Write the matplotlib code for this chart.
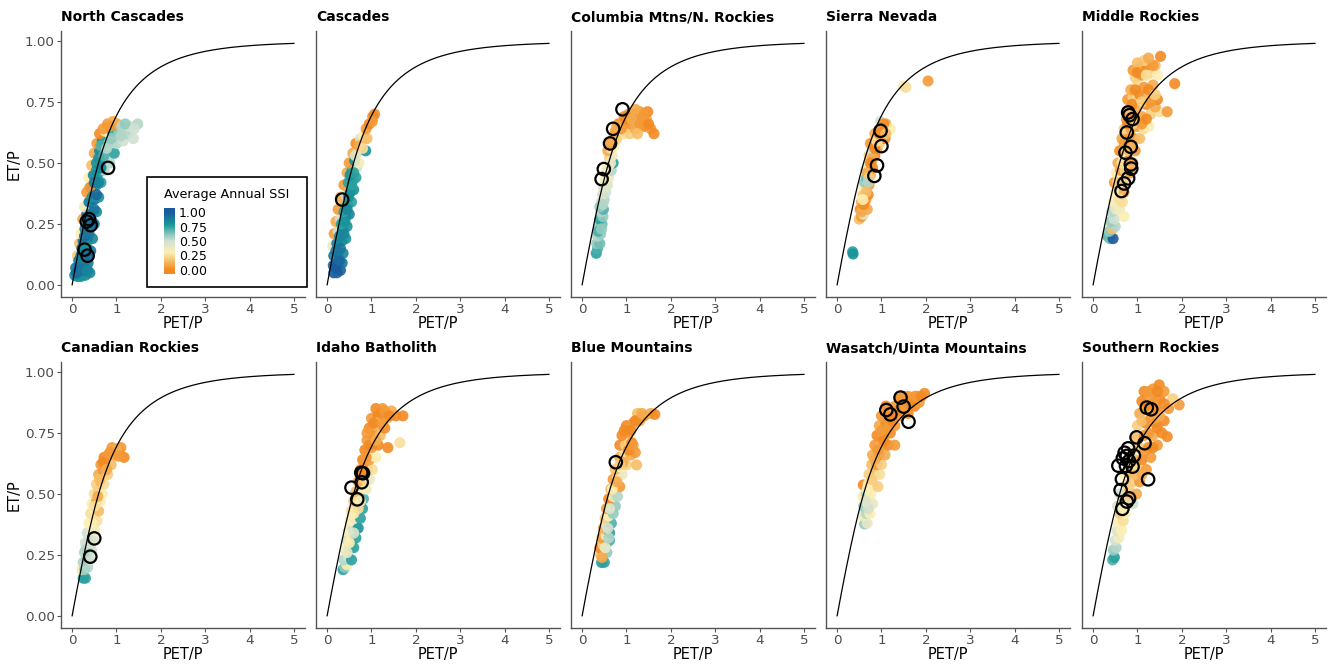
import numpy as np
import matplotlib
matplotlib.use("Agg")
import matplotlib.pyplot as plt
from matplotlib.colors import LinearSegmentedColormap, Normalize
from matplotlib.patches import Rectangle

plt.rcParams['font.family'] = ['DejaVu Sans']

# ---- data: (PET/P, ET/P, average annual SSI) per watershed, open circles per region ----
regions = ["North Cascades", "Cascades", "Columbia Mtns/N. Rockies", "Sierra Nevada", "Middle Rockies",
           "Canadian Rockies", "Idaho Batholith", "Blue Mountains", "Wasatch/Uinta Mountains", "Southern Rockies"]

nc_pts = [(0.06,0.04,0.85),(0.12,0.035,0.8),(0.2,0.035,0.8),(0.3,0.04,0.8),(0.4,0.05,0.85),
          (0.08,0.07,0.9),(0.16,0.08,0.95),(0.26,0.08,0.95),(0.36,0.09,0.9),
          (0.12,0.12,0.2),(0.2,0.12,0.95),(0.3,0.13,0.95),(0.42,0.14,0.9),
          (0.17,0.17,0.15),(0.25,0.18,0.95),(0.35,0.19,0.95),(0.46,0.19,0.85),
          (0.2,0.21,0.3),(0.29,0.23,0.9),(0.4,0.24,0.95),(0.5,0.25,0.9),
          (0.24,0.27,0.1),(0.33,0.29,0.95),(0.45,0.3,0.95),(0.55,0.3,0.85),
          (0.28,0.32,0.35),(0.38,0.34,0.9),(0.5,0.35,0.95),(0.6,0.36,0.8),
          (0.33,0.38,0.05),(0.43,0.4,0.9),(0.55,0.41,0.85),(0.65,0.42,0.75),
          (0.38,0.44,0.3),(0.48,0.45,0.85),(0.6,0.46,0.8),(0.72,0.47,0.55),
          (0.44,0.49,0.15),(0.55,0.5,0.8),(0.68,0.51,0.75),(0.85,0.5,0.55),
          (0.5,0.54,0.1),(0.62,0.55,0.85),(0.75,0.54,0.5),(0.95,0.54,0.75),
          (0.56,0.58,0.05),(0.68,0.59,0.8),(0.82,0.58,0.6),(1.0,0.58,0.55),(1.15,0.59,0.5),
          (0.62,0.62,0.0),(0.75,0.63,0.3),(0.9,0.63,0.75),(1.05,0.62,0.6),(1.25,0.62,0.55),(1.38,0.6,0.5),
          (0.8,0.66,0.05),(0.92,0.67,0.1),(1.02,0.66,0.1),(1.12,0.65,0.55),(1.3,0.65,0.5),(1.48,0.66,0.55),
          (0.4,0.4,0.05),
          (0.1,0.05,0.95),(0.25,0.06,0.9),(0.35,0.06,0.85),(0.15,0.1,0.9),(0.24,0.11,0.85),(0.38,0.12,0.95),
          (0.22,0.15,0.9),(0.32,0.16,0.8),(0.28,0.2,0.95),(0.38,0.21,0.9),(0.35,0.25,0.85),(0.45,0.26,0.95),
          (0.4,0.29,0.9),(0.5,0.31,0.9),(0.45,0.36,0.8),(0.55,0.37,0.95),(0.5,0.42,0.9),(0.6,0.42,0.85),
          (0.55,0.47,0.8),(0.65,0.48,0.85),(0.6,0.52,0.8),(0.72,0.53,0.7),(0.65,0.57,0.7),(0.78,0.56,0.55),
          (0.88,0.6,0.6),(1.1,0.61,0.55),(1.2,0.66,0.6),(1.4,0.64,0.5),(0.7,0.64,0.05),(0.85,0.65,0.05)]
nc_open = [(0.33,0.26),(0.38,0.27),(0.42,0.245),(0.28,0.145),(0.35,0.12),(0.81,0.48)]

ca_pts = [(0.15,0.05,1.0),(0.22,0.05,0.95),(0.3,0.06,1.0),(0.14,0.08,0.95),(0.24,0.09,1.0),(0.34,0.09,0.9),
          (0.15,0.12,0.9),(0.25,0.13,0.95),(0.36,0.13,0.85),(0.13,0.16,0.4),(0.22,0.17,0.9),(0.33,0.18,0.85),
          (0.42,0.19,0.8),(0.16,0.21,0.05),(0.25,0.22,0.5),(0.35,0.23,0.85),(0.45,0.24,0.8),
          (0.2,0.26,0.1),(0.3,0.27,0.5),(0.42,0.28,0.8),(0.5,0.29,0.85),
          (0.25,0.31,0.05),(0.35,0.32,0.1),(0.46,0.33,0.8),(0.55,0.34,0.75),
          (0.3,0.36,0.1),(0.42,0.37,0.5),(0.52,0.38,0.85),(0.6,0.39,0.8),
          (0.38,0.41,0.05),(0.48,0.42,0.75),(0.58,0.43,0.8),(0.65,0.44,0.75),
          (0.45,0.46,0.1),(0.56,0.47,0.75),(0.66,0.48,0.5),
          (0.5,0.5,0.05),(0.62,0.51,0.8),(0.72,0.5,0.35),
          (0.58,0.54,0.1),(0.7,0.55,0.2),(0.87,0.55,0.8),
          (0.65,0.58,0.0),(0.78,0.59,0.05),(0.75,0.6,0.45),
          (0.82,0.61,0.3),(0.9,0.6,0.15),(0.88,0.64,0.05),(0.95,0.66,0.0),(1.03,0.69,0.0),(1.07,0.7,0.0),(1.02,0.67,0.05),
          (0.2,0.07,1.0),(0.28,0.1,0.95),(0.2,0.14,0.9),(0.3,0.15,0.9),(0.28,0.2,0.85),(0.38,0.21,0.85),
          (0.32,0.25,0.75),(0.4,0.26,0.8),(0.38,0.3,0.75),(0.45,0.31,0.85),(0.48,0.36,0.8),(0.55,0.41,0.75),
          (0.52,0.45,0.8),(0.6,0.46,0.75),(0.64,0.53,0.45),(0.72,0.57,0.1),(0.8,0.56,0.25)]
ca_open = [(0.34,0.35)]

cm_pts = [(0.32,0.13,0.75),(0.35,0.15,0.7),(0.33,0.17,0.6),(0.4,0.17,0.65),(0.35,0.2,0.55),(0.42,0.21,0.6),
          (0.38,0.24,0.6),(0.45,0.25,0.65),(0.4,0.27,0.75),(0.47,0.28,0.6),(0.42,0.3,0.55),(0.48,0.31,0.7),
          (0.44,0.34,0.5),(0.5,0.35,0.55),(0.46,0.37,0.45),(0.53,0.38,0.5),(0.5,0.4,0.4),(0.57,0.41,0.45),
          (0.52,0.43,0.3),(0.6,0.44,0.4),(0.56,0.46,0.35),(0.66,0.47,0.55),(0.7,0.5,0.75),(0.6,0.49,0.3),
          (0.62,0.52,0.2),(0.68,0.53,0.35),(0.58,0.55,0.1),(0.65,0.56,0.25),(0.72,0.57,0.3),(0.6,0.58,0.05),
          (0.7,0.6,0.15),(0.78,0.6,0.2),(0.75,0.63,0.05),(0.85,0.63,0.1),(0.95,0.62,0.25),(0.82,0.66,0.0),
          (0.92,0.66,0.05),(1.0,0.65,0.1),(1.08,0.62,0.2),(1.1,0.66,0.05),(1.2,0.64,0.1),(1.25,0.68,0.05),
          (1.15,0.7,0.0),(1.35,0.69,0.05),(1.45,0.68,0.1),(1.3,0.71,0.05),(1.4,0.65,0.0),(1.55,0.64,0.05),
          (1.62,0.62,0.0),(1.05,0.7,0.05),(0.95,0.69,0.0),(1.2,0.72,0.1),(1.48,0.71,0.0),
          (0.36,0.22,0.7),(0.44,0.23,0.6),(0.4,0.32,0.6),(0.47,0.33,0.55),(0.48,0.4,0.45),(0.55,0.47,0.35),
          (0.64,0.5,0.4),(0.66,0.59,0.1),(0.88,0.64,0.05),(1.0,0.68,0.0),(1.12,0.68,0.1),(1.3,0.66,0.05),
          (1.5,0.66,0.0),(1.4,0.7,0.05),(1.25,0.62,0.15),(0.78,0.65,0.1)]
cm_open = [(0.91,0.72),(0.70,0.64),(0.63,0.58),(0.49,0.475),(0.44,0.434)]

sn_pts = [(0.35,0.136,0.75),(0.36,0.127,0.8),
          (0.5,0.27,0.15),(0.55,0.28,0.05),(0.6,0.29,0.45),(0.52,0.31,0.0),(0.62,0.32,0.2),(0.68,0.31,0.1),
          (0.55,0.34,0.1),(0.65,0.35,0.05),(0.58,0.37,0.2),(0.7,0.37,0.0),(0.6,0.4,0.3),(0.62,0.42,0.6),
          (0.72,0.41,0.05),(0.66,0.44,0.65),(0.75,0.45,0.1),(0.65,0.47,0.55),(0.8,0.48,0.0),(0.7,0.49,0.3),
          (0.78,0.51,0.05),(0.72,0.53,0.2),(0.85,0.53,0.0),(0.78,0.55,0.5),(0.9,0.56,0.05),(0.82,0.58,0.0),
          (0.95,0.58,0.2),(0.88,0.6,0.05),(1.0,0.61,0.0),(0.92,0.63,0.45),(1.05,0.63,0.25),(1.0,0.65,0.05),
          (1.1,0.66,0.1),(1.2,0.64,0.3),(0.98,0.67,0.5),(1.08,0.6,0.0),(0.75,0.58,0.05),(0.85,0.62,0.1),
          (0.55,0.3,0.1),(0.6,0.33,0.0),(0.65,0.38,0.15),(0.68,0.46,0.1),(0.72,0.44,0.2),(0.8,0.52,0.1),
          (0.85,0.56,0.0),(0.9,0.59,0.25),(0.95,0.62,0.0),(1.05,0.66,0.0),(1.1,0.62,0.15),(0.7,0.42,0.55),
          (0.58,0.35,0.3),(0.75,0.5,0.0),
          (1.5,0.815,0.3),(1.55,0.81,0.25),(2.05,0.836,0.05)]
sn_open = [(0.98,0.632),(1.0,0.569),(0.90,0.49),(0.84,0.447)]

mr_pts = [(0.33,0.2,0.7),(0.38,0.19,0.65),(0.45,0.19,1.0),(0.36,0.22,0.6),(0.44,0.23,0.15),(0.5,0.24,0.55),
          (0.4,0.26,0.6),(0.48,0.27,0.5),(0.7,0.28,0.3),(0.42,0.3,0.55),(0.52,0.31,0.4),(0.6,0.31,0.35),
          (0.46,0.34,0.35),(0.56,0.35,0.3),(0.66,0.34,0.25),(0.5,0.38,0.3),(0.6,0.39,0.35),(0.7,0.38,0.1),
          (0.48,0.42,0.05),(0.58,0.43,0.3),(0.68,0.43,0.2),(0.52,0.46,0.3),(0.62,0.47,0.05),(0.72,0.47,0.2),
          (0.85,0.46,0.05),(0.56,0.5,0.1),(0.68,0.51,0.3),(0.8,0.51,0.0),(0.9,0.5,0.1),(0.6,0.55,0.0),
          (0.72,0.56,0.2),(0.95,0.55,0.05),(0.65,0.6,0.1),(0.78,0.6,0.05),(0.92,0.6,0.0),(1.05,0.6,0.15),
          (0.7,0.64,0.2),(0.85,0.64,0.1),(1.0,0.65,0.05),(1.15,0.64,0.25),(1.26,0.65,0.3),(0.75,0.68,0.05),
          (0.95,0.69,0.0),(1.1,0.69,0.1),(1.3,0.7,0.2),(1.5,0.71,0.25),(1.67,0.71,0.05),(0.8,0.72,0.15),
          (1.0,0.73,0.1),(1.2,0.74,0.0),(1.4,0.73,0.1),(0.78,0.76,0.05),(0.9,0.77,0.2),(1.05,0.78,0.0),
          (1.25,0.77,0.15),(1.45,0.76,0.0),(0.85,0.8,0.1),(1.0,0.82,0.25),(1.15,0.81,0.05),(1.35,0.82,0.1),
          (1.84,0.825,0.0),(0.95,0.85,0.2),(1.1,0.86,0.05),(1.3,0.87,0.2),(1.45,0.86,0.3),(1.05,0.89,0.1),
          (1.2,0.9,0.0),(1.4,0.9,0.15),(1.52,0.937,0.0),(1.15,0.92,0.2),(0.9,0.88,0.05),(1.0,0.91,0.15),
          (0.7,0.58,0.05),(0.85,0.58,0.1),(0.78,0.66,0.0),(0.9,0.66,0.2),(1.1,0.66,0.05),(1.2,0.68,0.0),
          (0.88,0.74,0.0),(1.1,0.75,0.2),(1.3,0.75,0.05),(0.95,0.8,0.0),(1.25,0.8,0.0),(1.0,0.87,0.0),
          (1.2,0.86,0.25),(1.35,0.9,0.05),(1.25,0.93,0.1),(1.4,0.78,0.2),(0.8,0.55,0.15),(0.65,0.5,0.25),
          (0.55,0.42,0.2),(0.6,0.35,0.25)]
mr_open = [(0.79,0.707),(0.82,0.696),(0.89,0.68),(0.76,0.625),(0.85,0.566),(0.73,0.542),(0.85,0.494),
           (0.86,0.477),(0.79,0.437),(0.70,0.416),(0.64,0.385)]

cr_pts = [(0.25,0.155,0.75),(0.3,0.155,0.75),(0.22,0.19,0.35),(0.28,0.19,0.6),(0.35,0.2,0.55),(0.25,0.22,0.55),
          (0.32,0.23,0.6),(0.4,0.23,0.5),(0.28,0.26,0.55),(0.36,0.27,0.6),(0.44,0.27,0.5),(0.3,0.3,0.5),
          (0.4,0.31,0.55),(0.48,0.31,0.45),(0.34,0.34,0.5),(0.44,0.35,0.4),(0.52,0.35,0.35),(0.38,0.38,0.3),
          (0.48,0.39,0.3),(0.56,0.39,0.25),(0.42,0.42,0.25),(0.52,0.43,0.3),(0.6,0.43,0.15),(0.45,0.46,0.3),
          (0.55,0.47,0.05),(0.64,0.47,0.3),(0.5,0.5,0.25),(0.6,0.51,0.2),(0.68,0.5,0.3),(0.55,0.54,0.2),
          (0.65,0.55,0.1),(0.72,0.54,0.25),(0.6,0.58,0.1),(0.7,0.59,0.05),(0.8,0.58,0.2),(0.65,0.62,0.05),
          (0.75,0.62,0.1),(0.88,0.62,0.15),(0.72,0.65,0.0),(0.82,0.66,0.05),(0.95,0.66,0.1),(1.05,0.68,0.0),
          (1.1,0.69,0.05),(1.17,0.65,0.0),(0.9,0.69,0.05),(1.0,0.685,0.1),
          (0.3,0.27,0.55),(0.38,0.3,0.5),(0.45,0.38,0.3),(0.5,0.45,0.25),(0.58,0.49,0.1),(0.62,0.56,0.15),
          (0.7,0.63,0.0),(0.85,0.67,0.05),(0.78,0.6,0.1),(1.05,0.655,0.05)]
cr_open = [(0.50,0.318),(0.41,0.243)]

ib_pts = [(0.36,0.19,0.75),(0.4,0.2,0.6),(0.45,0.21,0.3),(0.38,0.23,0.55),(0.48,0.24,0.5),(0.55,0.23,0.75),
          (0.42,0.27,0.3),(0.52,0.28,0.55),(0.6,0.28,0.75),(0.45,0.31,0.5),(0.55,0.32,0.3),(0.65,0.32,0.75),
          (0.48,0.35,0.3),(0.58,0.36,0.5),(0.7,0.36,0.8),(0.52,0.39,0.3),(0.62,0.4,0.35),(0.75,0.4,0.75),
          (0.55,0.43,0.25),(0.66,0.44,0.3),(0.8,0.44,0.75),(0.6,0.47,0.2),(0.7,0.48,0.25),(0.82,0.48,0.7),
          (0.65,0.51,0.15),(0.75,0.52,0.3),(0.88,0.52,0.35),(0.7,0.55,0.1),(0.85,0.56,0.2),(0.95,0.56,0.4),
          (0.75,0.6,0.05),(0.9,0.6,0.0),(1.02,0.6,0.25),(0.8,0.64,0.0),(0.95,0.64,0.05),(1.1,0.65,0.3),
          (0.85,0.68,0.0),(1.0,0.69,0.05),(1.15,0.7,0.0),(1.37,0.69,0.0),(1.64,0.71,0.25),(0.9,0.72,0.05),
          (1.05,0.74,0.0),(1.2,0.74,0.15),(0.95,0.77,0.0),(1.1,0.78,0.1),(1.3,0.77,0.0),(1.0,0.81,0.05),
          (1.15,0.82,0.0),(1.35,0.81,0.15),(1.55,0.82,0.0),(1.71,0.82,0.0),(1.1,0.85,0.0),(1.25,0.85,0.05),
          (1.45,0.84,0.1),(1.2,0.8,0.2),
          (0.45,0.26,0.4),(0.5,0.3,0.3),(0.6,0.34,0.45),(0.6,0.42,0.3),(0.7,0.44,0.25),(0.75,0.47,0.3),
          (0.8,0.58,0.0),(0.88,0.65,0.05),(0.95,0.7,0.0),(1.05,0.79,0.0),(1.2,0.83,0.0),(1.3,0.84,0.05),
          (1.4,0.82,0.0),(1.1,0.72,0.1),(0.9,0.75,0.05),(1.25,0.79,0.05)]
ib_open = [(0.77,0.587),(0.81,0.585),(0.78,0.548),(0.55,0.526),(0.68,0.478)]

bm_pts = [(0.44,0.219,0.75),(0.5,0.22,0.75),(0.42,0.25,0.15),(0.5,0.26,0.3),(0.56,0.26,0.6),(0.4,0.28,0.0),
          (0.48,0.29,0.2),(0.56,0.3,0.55),(0.62,0.31,0.7),(0.45,0.32,0.05),(0.54,0.33,0.3),(0.62,0.34,0.75),
          (0.48,0.36,0.1),(0.56,0.37,0.35),(0.66,0.38,0.7),(0.52,0.4,0.2),(0.6,0.41,0.3),(0.7,0.42,0.6),
          (0.55,0.44,0.05),(0.65,0.45,0.3),(0.75,0.45,0.6),(0.6,0.48,0.0),(0.7,0.49,0.35),(0.8,0.49,0.55),
          (0.65,0.52,0.1),(0.75,0.53,0.3),(0.85,0.53,0.05),(0.7,0.56,0.05),(0.8,0.57,0.25),(0.9,0.58,0.4),
          (0.75,0.6,0.15),(0.88,0.61,0.3),(1.0,0.62,0.2),(1.23,0.619,0.15),(0.85,0.65,0.1),(0.95,0.66,0.25),
          (1.1,0.66,0.1),(1.2,0.67,0.05),(0.85,0.7,0.0),(0.98,0.7,0.2),(1.12,0.71,0.0),(0.9,0.74,0.0),
          (1.05,0.75,0.05),(1.0,0.78,0.0),(1.15,0.79,0.05),(1.3,0.8,0.1),(1.25,0.83,0.15),(1.4,0.82,0.05),
          (1.55,0.83,0.1),(1.64,0.826,0.0),(1.1,0.76,0.0),
          (0.45,0.24,0.1),(0.52,0.28,0.4),(0.6,0.32,0.55),(0.58,0.36,0.5),(0.62,0.44,0.45),(0.68,0.52,0.3),
          (0.78,0.55,0.1),(0.92,0.63,0.1),(1.05,0.68,0.0),(0.95,0.76,0.0),(1.2,0.8,0.0),(1.35,0.83,0.1),
          (1.15,0.7,0.05),(0.85,0.62,0.2)]
bm_open = [(0.76,0.63)]

wu_pts = [(0.62,0.377,0.6),(0.68,0.38,0.4),(0.58,0.41,0.35),(0.66,0.42,0.55),(0.74,0.42,0.3),(0.6,0.45,0.6),
          (0.7,0.46,0.35),(0.8,0.46,0.4),(0.58,0.49,0.3),(0.66,0.5,0.55),(0.76,0.5,0.3),(0.59,0.537,0.0),
          (0.7,0.54,0.3),(0.82,0.54,0.25),(0.92,0.53,0.2),(0.72,0.58,0.2),(0.85,0.58,0.15),(0.96,0.58,0.25),
          (0.78,0.62,0.15),(0.9,0.62,0.05),(1.0,0.62,0.2),(0.8,0.66,0.1),(0.95,0.66,0.0),(1.08,0.66,0.1),
          (0.85,0.7,0.05),(1.0,0.7,0.1),(1.15,0.7,0.0),(1.3,0.7,0.05),(0.9,0.74,0.0),(1.05,0.74,0.05),
          (1.2,0.75,0.0),(0.95,0.78,0.1),(1.1,0.79,0.0),(1.3,0.78,0.05),(1.0,0.82,0.05),(1.2,0.82,0.0),
          (1.4,0.82,0.05),(1.6,0.83,0.0),(1.1,0.86,0.0),(1.3,0.86,0.05),(1.5,0.87,0.0),(1.7,0.88,0.05),
          (1.4,0.89,0.0),(1.6,0.9,0.05),(1.8,0.9,0.0),(1.97,0.912,0.0),(1.75,0.86,0.0),(1.85,0.875,0.05),
          (0.7,0.44,0.5),(0.64,0.47,0.45),(0.68,0.52,0.3),(0.78,0.56,0.2),(0.85,0.64,0.1),(0.92,0.68,0.05),
          (1.05,0.72,0.0),(1.15,0.77,0.05),(1.25,0.8,0.0),(1.35,0.84,0.0),(1.55,0.85,0.05),(1.65,0.87,0.0),
          (1.75,0.9,0.05),(1.9,0.9,0.0),(1.5,0.9,0.05),(1.0,0.76,0.05)]
wu_open = [(1.43,0.895),(1.50,0.858),(1.11,0.844),(1.20,0.826),(1.61,0.796)]

sr_pts = [(0.44,0.23,0.7),(0.48,0.24,0.75),(0.46,0.27,0.6),(0.52,0.28,0.55),(0.5,0.31,0.5),(0.58,0.32,0.35),
          (0.54,0.35,0.45),(0.64,0.35,0.3),(0.58,0.38,0.3),(0.68,0.39,0.25),(0.6,0.42,0.2),(0.72,0.42,0.3),
          (0.65,0.46,0.25),(0.78,0.46,0.2),(0.9,0.46,0.5),(0.7,0.5,0.2),(0.85,0.5,0.15),(0.98,0.5,0.1),
          (0.75,0.54,0.25),(0.9,0.55,0.2),(1.05,0.55,0.05),(0.7,0.58,0.3),(0.85,0.59,0.1),(1.0,0.6,0.2),
          (1.2,0.6,0.05),(0.8,0.63,0.2),(0.95,0.64,0.15),(1.1,0.64,0.0),(1.3,0.65,0.05),(0.9,0.68,0.3),
          (1.05,0.69,0.2),(1.25,0.69,0.0),(1.45,0.7,0.05),(1.67,0.735,0.0),(0.95,0.73,0.15),(1.15,0.74,0.05),
          (1.35,0.74,0.1),(1.55,0.75,0.0),(1.0,0.78,0.2),(1.2,0.79,0.0),(1.4,0.79,0.05),(1.6,0.8,0.0),
          (1.05,0.83,0.1),(1.25,0.84,0.2),(1.45,0.84,0.0),(1.7,0.85,0.05),(1.94,0.865,0.05),(1.1,0.88,0.0),
          (1.3,0.89,0.05),(1.5,0.89,0.0),(1.8,0.89,0.2),(1.15,0.92,0.0),(1.35,0.93,0.05),(1.49,0.947,0.0),
          (1.6,0.92,0.05),(0.6,0.5,0.5),(0.55,0.45,0.45),
          (0.68,0.45,0.3),(0.8,0.53,0.2),(0.95,0.58,0.15),(1.1,0.58,0.1),(0.9,0.62,0.25),(1.15,0.67,0.05),
          (1.35,0.69,0.0),(1.25,0.75,0.05),(1.45,0.77,0.0),(1.1,0.8,0.15),(1.3,0.81,0.05),(1.5,0.82,0.1),
          (1.2,0.86,0.0),(1.4,0.88,0.05),(1.25,0.92,0.05),(1.45,0.92,0.0),(1.6,0.87,0.0)]
sr_open = [(1.21,0.854),(1.31,0.847),(0.98,0.732),(1.16,0.708),(0.79,0.687),(0.71,0.669),(0.92,0.657),
           (0.76,0.656),(0.67,0.646),(0.81,0.635),(0.57,0.616),(0.74,0.615),(0.89,0.612),(1.24,0.56),
           (0.65,0.561),(0.62,0.516),(0.81,0.482),(0.76,0.469),(0.66,0.439)]

all_pts = [nc_pts, ca_pts, cm_pts, sn_pts, mr_pts, cr_pts, ib_pts, bm_pts, wu_pts, sr_pts]
all_open = [nc_open, ca_open, cm_open, sn_open, mr_open, cr_open, ib_open, bm_open, wu_open, sr_open]

ssi_ticks = [0.0, 0.25, 0.5, 0.75, 1.0]

# colour scale
ssi_cmap = LinearSegmentedColormap.from_list("ssi", [
    (0.0, '#F28A22'), (0.15, '#F7BD66'), (0.3, '#FCF0B4'), (0.5, '#D3E1D3'),
    (0.62, '#88C6BA'), (0.78, '#17999A'), (1.0, '#1B5B9E')])
norm = Normalize(0, 1)

# budyko curve
phi = np.linspace(0.001, 5, 400)
budyko = np.sqrt(phi * np.tanh(1 / phi) * (1 - np.exp(-phi)))

W, H = 1332, 664
fig = plt.figure(figsize=(W / 100, H / 100), dpi=100)

col_left = [61, 316, 571, 826, 1082]
row_bottom = [297.2, 628.2]
pw, ph = 244, 266

for i, name in enumerate(regions):
    r, c = divmod(i, 5)
    ax = fig.add_axes([col_left[c] / W, 1 - row_bottom[r] / H, pw / W, ph / H])
    pts = np.array(all_pts[i])
    ax.scatter(pts[:, 0], pts[:, 1], c=pts[:, 2], cmap=ssi_cmap, norm=norm,
               s=64, alpha=0.9, linewidths=0, zorder=2)
    ax.plot(phi, budyko, color='black', lw=0.9, zorder=3)
    op = np.array(all_open[i])
    ax.scatter(op[:, 0], op[:, 1], s=80, facecolors='none', edgecolors='black',
               linewidths=1.6, zorder=4)
    ax.set_xlim(-0.25, 5.25)
    ax.set_ylim(-0.05, 1.04)
    for s in ['top', 'right']:
        ax.spines[s].set_visible(False)
    for s in ['left', 'bottom']:
        ax.spines[s].set_color('#555555')
        ax.spines[s].set_linewidth(1.0)
    ax.set_xticks([0, 1, 2, 3, 4, 5])
    ax.tick_params(axis='x', colors='#555555', labelcolor='#4D4D4D', labelsize=9.7, length=3, pad=1.5)
    ax.set_xlabel('PET/P', fontsize=10.5, labelpad=0)
    if c == 0:
        ax.set_yticks([0, 0.25, 0.5, 0.75, 1.0])
        ax.set_yticklabels(['0.00', '0.25', '0.50', '0.75', '1.00'])
        ax.tick_params(axis='y', colors='#555555', labelcolor='#4D4D4D', labelsize=9.7, length=3, pad=1.5)
        ax.set_ylabel('ET/P', fontsize=10.5, labelpad=2)
    else:
        ax.set_yticks([])
    ax.set_title(name, loc='left', fontsize=10, fontweight='bold', pad=7)

# legend box for the colour scale
fig.patches.append(Rectangle((147 / W, 1 - 287 / H), 160 / W, 110 / H, transform=fig.transFigure,
                             facecolor='white', edgecolor='black', lw=1.2, zorder=5))
fig.text(164 / W, 1 - 194 / H, 'Average Annual SSI', fontsize=9.2, va='center', ha='left', zorder=6)
cax = fig.add_axes([164 / W, 1 - 274 / H, 11 / W, 66 / H], zorder=6)
grad = np.linspace(-0.07, 1.07, 256).reshape(-1, 1)
cax.imshow(grad, extent=[0, 1, -0.07, 1.07], aspect='auto', origin='lower', cmap=ssi_cmap, norm=norm)
cax.set_xticks([])
cax.yaxis.tick_right()
cax.set_yticks(ssi_ticks)
cax.set_yticklabels(['%.2f' % t for t in ssi_ticks])
cax.tick_params(axis='y', length=0, pad=3, labelsize=9)
for s in cax.spines.values():
    s.set_visible(False)

fig.savefig('out.png', dpi=100)
